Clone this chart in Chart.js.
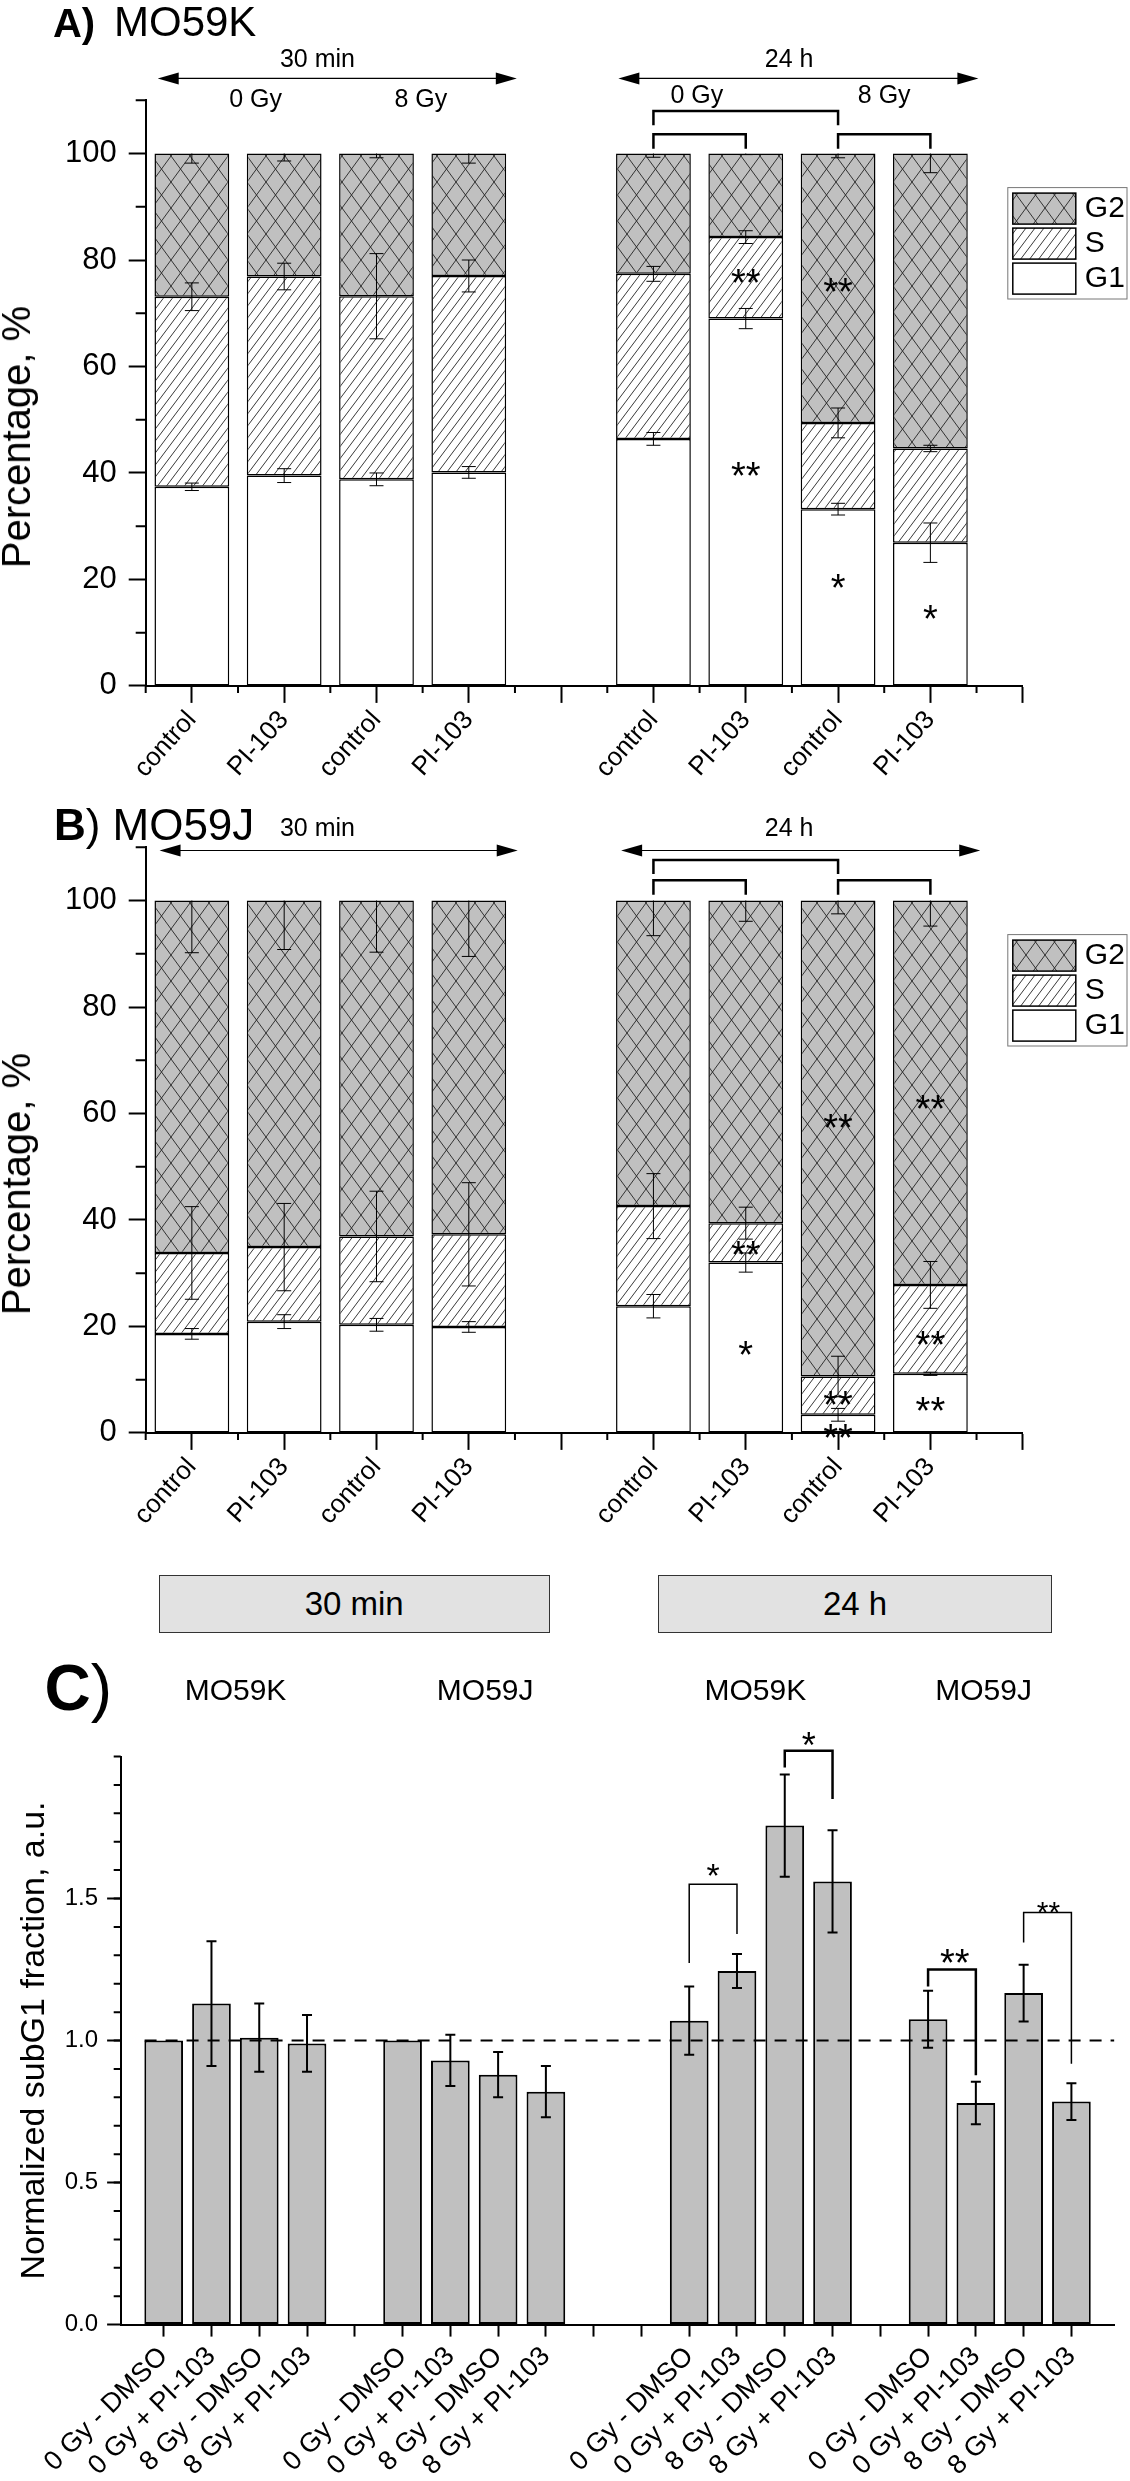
<!DOCTYPE html>
<html lang="en">
<head>
<meta charset="UTF-8">
<title>Cell cycle distribution and subG1 fraction</title>
<script src="https://cdn.jsdelivr.net/npm/chart.js@4.4.1/dist/chart.umd.min.js"></script>
<style>
  body { margin: 0; background: #fff; overflow: hidden; font-family: 'Liberation Sans', Arial, sans-serif; color: #000; }
  #page { position: relative; width: 1130px; height: 2481px; }
  canvas { position: absolute; left: 0; }
  .lbl { position: absolute; white-space: nowrap; line-height: 1; }
  .ytitle { position: absolute; white-space: nowrap; line-height: 1; transform: translate(-50%, -50%) rotate(-90deg); }
  .hdr { position: absolute; box-sizing: border-box; background: #e2e2e2; border: 1.5px solid #333;
         display: flex; align-items: center; justify-content: center; font-size: 33px; }
  .mid { transform: translateX(-50%); }
</style>
</head>
<body>
<div id="page">
  <canvas id="chartA" width="1130" height="800" style="top:0"></canvas>
  <canvas id="chartB" width="1130" height="800" style="top:747px"></canvas>
  <canvas id="chartC" width="1130" height="987" style="top:1494px"></canvas>

  <div class="lbl" style="left:52.9px; top:2.5px; font-size:40px; font-weight:bold">A)</div>
  <div class="lbl" style="left:114px; top:0.8px; font-size:42px">MO59K</div>
  <div class="ytitle" style="left:16px; top:436.5px; font-size:40px">Percentage, %</div>

  <div class="lbl" style="left:54px; top:802.8px; font-size:44px"><b>B</b>)</div>
  <div class="lbl" style="left:112.5px; top:802.8px; font-size:44px">MO59J</div>
  <div class="ytitle" style="left:16px; top:1183.5px; font-size:40px">Percentage, %</div>

  <div class="hdr" style="left:158.7px; top:1575px; width:391px; height:58px">30 min</div>
  <div class="hdr" style="left:658px; top:1575px; width:394px; height:58px">24 h</div>
  <div class="lbl" style="left:44.6px; top:1656px; font-size:64px"><b>C</b>)</div>
  <div class="lbl mid" style="left:235.5px; top:1674.6px; font-size:30px">MO59K</div>
  <div class="lbl mid" style="left:485.2px; top:1674.6px; font-size:30px">MO59J</div>
  <div class="lbl mid" style="left:755.3px; top:1674.6px; font-size:30px">MO59K</div>
  <div class="lbl mid" style="left:983.6px; top:1674.6px; font-size:30px">MO59J</div>
</div>

<script>
const FONT = "'Liberation Sans', Arial, sans-serif";
Chart.defaults.font.family = FONT;
Chart.defaults.color = '#000';

// ---- panels A and B: stacked cell-cycle phases (x index 4 is the gap between 30 min and 24 h)
const xLabelsAB = ['control', 'PI-103', 'control', 'PI-103', '', 'control', 'PI-103', 'control', 'PI-103'];

const g1A = [37.4, 39.5, 38.8, 40.1, null, 46.4, 69.0, 33.2, 26.9];
const sA = [35.7, 37.4, 34.4, 36.9, null, 31.0, 15.3, 16.2, 17.7];
const g2A = [26.9, 23.1, 26.8, 23.0, null, 22.6, 15.7, 50.6, 55.4];
const g1ErrA = [0.7, 1.3, 1.2, 1.1, null, 1.2, 1.9, 1.1, 3.7];
const sErrA = [2.6, 2.5, 8.0, 3.0, null, 1.4, 1.2, 2.8, 0.6];
const g2ErrA = [1.8, 1.4, 0.8, 1.8, null, 0.7, 0.2, 0.8, 3.6];

const g1B = [18.6, 20.9, 20.3, 19.9, null, 23.8, 32.0, 3.4, 11.1];
const sB = [15.2, 14.0, 16.6, 17.4, null, 18.8, 7.4, 7.2, 16.7];
const g2B = [66.2, 65.1, 63.1, 62.7, null, 57.4, 60.6, 89.4, 72.2];
const g1ErrB = [1.0, 1.3, 1.2, 1.0, null, 2.2, 1.8, 1.2, 0.3];
const sErrB = [8.7, 8.2, 8.5, 9.7, null, 6.1, 3.0, 3.8, 4.4];
const g2ErrB = [9.8, 9.2, 9.7, 10.5, null, 6.6, 3.9, 2.5, 4.8];

// significance marks: [x index, value, text]
const starsA = [[6, 77.3, '**'], [6, 41.1, '**'], [7, 75.7, '**'], [7, 20.1, '*'], [8, 14.2, '*']];
const starsB = [[6, 35.1, '**'], [6, 16.2, '*'], [7, 58.9, '**'], [7, 6.8, '**'], [7, 0.7, '**'],
                [8, 62.4, '**'], [8, 18.2, '**'], [8, 5.7, '**']];

// ---- panel C: normalized subG1 fraction (blank indices separate the groups)
const doseLabels = ['0 Gy - DMSO', '0 Gy + PI-103', '8 Gy - DMSO', '8 Gy + PI-103'];
const xLabelsC = [...doseLabels, '', ...doseLabels, '', '', ...doseLabels, '', ...doseLabels];
const subG1 = [1.0, 1.13, 1.01, 0.99, null, 1.0, 0.93, 0.88, 0.82, null, null,
               1.07, 1.245, 1.757, 1.56, null, 1.075, 0.78, 1.167, 0.785];
const subG1Err = [0, 0.22, 0.12, 0.10, null, 0, 0.09, 0.08, 0.09, null, null,
                  0.12, 0.06, 0.18, 0.18, null, 0.10, 0.075, 0.10, 0.065];
const refLevel = 1.0;

// hatch fills
function hatch(w, h, bg, cross) {
  const c = document.createElement('canvas');
  c.width = w; c.height = h;
  const g = c.getContext('2d');
  g.fillStyle = bg; g.fillRect(0, 0, w, h);
  g.strokeStyle = '#222'; g.lineWidth = 0.9;
  g.beginPath();
  for (let k = -1; k <= 1; k++) { g.moveTo(k * w, h); g.lineTo((k + 1) * w, 0); }
  if (cross) for (let k = -1; k <= 1; k++) { g.moveTo(k * w, 0); g.lineTo((k + 1) * w, h); }
  g.stroke();
  return g.createPattern(c, 'repeat');
}
const lineHatch = hatch(9, 12, '#ffffff', false);
const crossHatch = hatch(19, 26, '#c0c0c0', true);

const errorBars = {
  id: 'errorBars',
  afterDatasetsDraw(chart, args, o) {
    const { ctx, scales: { x, y } } = chart;
    ctx.save();
    ctx.strokeStyle = '#000';
    ctx.lineWidth = o.width;
    const sums = [];
    chart.data.datasets.forEach(ds => {
      if (ds.type === 'line') return;
      ds.data.forEach((p, i) => {
        if (p.y == null) return;
        const top = o.stacked ? (sums[i] = (sums[i] || 0) + p.y) : p.y;
        const e = ds.errors && ds.errors[i];
        if (!e) return;
        const px = x.getPixelForValue(p.x);
        const hi = y.getPixelForValue(ds.downOnly ? top : top + e);
        const lo = y.getPixelForValue(top - e);
        ctx.beginPath();
        ctx.moveTo(px, hi); ctx.lineTo(px, lo);
        ctx.moveTo(px - o.cap, lo); ctx.lineTo(px + o.cap, lo);
        if (!ds.downOnly) { ctx.moveTo(px - o.cap, hi); ctx.lineTo(px + o.cap, hi); }
        ctx.stroke();
      });
    });
    ctx.restore();
  }
};

const minorTicks = {
  id: 'minorTicks',
  afterDraw(chart, args, o) {
    const { ctx, chartArea, scales: { x, y } } = chart;
    ctx.save();
    ctx.strokeStyle = '#000';
    ctx.lineWidth = 2;
    ctx.beginPath();
    if (o.x) for (let v = o.x.from; v <= o.x.to + 1e-9; v += o.x.step) {
      const px = x.getPixelForValue(v);
      ctx.moveTo(px, chartArea.bottom); ctx.lineTo(px, chartArea.bottom + o.x.len);
    }
    if (o.y) for (let v = o.y.from; v <= o.y.to + 1e-9; v += o.y.step) {
      const py = y.getPixelForValue(v);
      ctx.moveTo(chartArea.left - o.y.len, py); ctx.lineTo(chartArea.left, py);
    }
    ctx.stroke();
    ctx.restore();
  }
};

const boxLegend = {
  id: 'boxLegend',
  afterDraw(chart, args, o) {
    if (!o.show) return;
    const ctx = chart.ctx;
    ctx.save();
    ctx.strokeStyle = '#777'; ctx.lineWidth = 1;
    ctx.strokeRect(o.left, o.top, o.width, o.height);
    chart.data.datasets.slice().reverse().forEach((d, i) => {
      const yy = o.top + 5.5 + i * 35;
      ctx.fillStyle = d.backgroundColor;
      ctx.fillRect(o.left + 5, yy, 63, 31);
      ctx.strokeStyle = '#000'; ctx.lineWidth = 1.5;
      ctx.strokeRect(o.left + 5, yy, 63, 31);
      ctx.fillStyle = '#000';
      ctx.font = '30px ' + FONT;
      ctx.textBaseline = 'middle';
      ctx.textAlign = 'left';
      ctx.fillText(d.label, o.left + 77, yy + 16);
    });
    ctx.restore();
  }
};

// arrows, brackets, labels and stars placed in data units
const marks = {
  id: 'marks',
  afterDraw(chart, args, o) {
    const { ctx, scales: { x, y } } = chart;
    const X = v => x.getPixelForValue(v), Y = v => y.getPixelForValue(v);
    ctx.save();
    ctx.fillStyle = '#000';
    ctx.strokeStyle = '#000';
    (o.arrows || []).forEach(([a, b, v]) => {
      const x1 = X(a), x2 = X(b), yy = Y(v);
      ctx.lineWidth = 1.2;
      ctx.beginPath(); ctx.moveTo(x1 + 10, yy); ctx.lineTo(x2 - 10, yy); ctx.stroke();
      ctx.beginPath();
      ctx.moveTo(x1, yy); ctx.lineTo(x1 + 21, yy - 6); ctx.lineTo(x1 + 21, yy + 6); ctx.closePath();
      ctx.moveTo(x2, yy); ctx.lineTo(x2 - 21, yy - 6); ctx.lineTo(x2 - 21, yy + 6); ctx.closePath();
      ctx.fill();
    });
    (o.brackets || []).forEach(([a, b, top, endA, endB, lw]) => {
      ctx.lineWidth = lw;
      ctx.lineJoin = 'miter';
      ctx.beginPath();
      ctx.moveTo(X(a), Y(endA)); ctx.lineTo(X(a), Y(top)); ctx.lineTo(X(b), Y(top)); ctx.lineTo(X(b), Y(endB));
      ctx.stroke();
    });
    ctx.textAlign = 'center';
    ctx.textBaseline = 'alphabetic';
    (o.texts || []).forEach(([t, xv, yv, size]) => {
      ctx.font = size + 'px ' + FONT;
      ctx.fillText(t, X(xv), Y(yv));
    });
    (o.stars || []).forEach(([xv, yv, t, size]) => {
      ctx.font = size + 'px ' + FONT;
      ctx.fillText(t, X(xv), Y(yv) + 0.57 * size);
    });
    ctx.restore();
  }
};

function cyclePanel(id, g1, s, g2, errG1, errS, errG2, notes) {
  const pts = arr => arr.map((v, i) => ({ x: i, y: v }));
  return new Chart(document.getElementById(id), {
    type: 'bar',
    data: {
      datasets: [
        { label: 'G1', data: pts(g1), errors: errG1, backgroundColor: '#ffffff' },
        { label: 'S', data: pts(s), errors: errS, backgroundColor: lineHatch },
        { label: 'G2', data: pts(g2), errors: errG2, downOnly: true, backgroundColor: crossHatch }
      ]
    },
    options: {
      responsive: false,
      animation: false,
      layout: { padding: { left: 0, top: 100.3, right: 107.3, bottom: 0 } },
      datasets: { bar: { borderColor: '#000', borderWidth: 1.5, borderSkipped: false,
                         categoryPercentage: 1, barPercentage: 0.81 } },
      scales: {
        x: {
          type: 'linear', stacked: true, min: -0.5, max: 9, offset: false,
          grid: { offset: false, drawOnChartArea: false, color: '#000', tickLength: 17, tickWidth: 2 },
          border: { color: '#000', width: 2 },
          ticks: { stepSize: 1, includeBounds: false, autoSkip: false, minRotation: 48, maxRotation: 48,
                   padding: 2, font: { size: 26 }, callback: v => xLabelsAB[v] || '' },
          afterFit: sc => { sc.height = 114.1; }
        },
        y: {
          stacked: true, min: 0, max: 110,
          grid: { drawOnChartArea: false, color: '#000', tickLength: 17, tickWidth: 2 },
          border: { color: '#000', width: 2 },
          ticks: { stepSize: 20, includeBounds: false, padding: 12, font: { size: 31 } },
          afterFit: sc => { sc.width = 145.7; }
        }
      },
      plugins: {
        legend: { display: false },
        tooltip: { enabled: false },
        errorBars: { width: 1, cap: 7, stacked: true },
        minorTicks: { x: { from: -0.5, to: 8.5, step: 1, len: 7 }, y: { from: 10, to: 110, step: 20, len: 10 } },
        boxLegend: { show: true, left: 1007.8, top: 187.6, width: 119.2, height: 111.4 },
        marks: notes
      }
    },
    plugins: [errorBars, minorTicks, boxLegend, marks]
  });
}

cyclePanel('chartA', g1A, sA, g2A, g1ErrA, sErrA, g2ErrA, {
  arrows: [[-0.37, 3.52, 114.1], [4.62, 8.52, 114.1]],
  texts: [['30 min', 1.36, 116.2, 25], ['24 h', 6.47, 116.2, 25],
          ['0 Gy', 0.69, 108.7, 25], ['8 Gy', 2.48, 108.7, 25],
          ['0 Gy', 5.47, 109.4, 25], ['8 Gy', 7.5, 109.4, 25]],
  brackets: [[5, 7, 108.0, 105.3, 105.3, 2.5], [5, 6, 103.6, 100.9, 100.9, 2.5], [7, 8, 103.6, 100.9, 100.9, 2.5]],
  stars: starsA.map(([xv, yv, t]) => [xv, yv, t, 38])
});

cyclePanel('chartB', g1B, sB, g2B, g1ErrB, sErrB, g2ErrB, {
  arrows: [[-0.35, 3.53, 109.4], [4.65, 8.54, 109.4]],
  texts: [['30 min', 1.36, 112.2, 25], ['24 h', 6.47, 112.2, 25]],
  brackets: [[5, 7, 107.6, 105.0, 105.0, 2.5], [5, 6, 103.8, 101.1, 101.1, 2.5], [7, 8, 103.8, 101.1, 101.1, 2.5]],
  stars: starsB.map(([xv, yv, t]) => [xv, yv, t, 38])
});

new Chart(document.getElementById('chartC'), {
  type: 'bar',
  data: {
    datasets: [
      { type: 'line', data: [{ x: -0.4, y: refLevel }, { x: 19.9, y: refLevel }], borderColor: '#000',
        borderWidth: 2, borderDash: [12, 9], pointRadius: 0, order: 0 },
      { data: subG1.map((v, i) => ({ x: i, y: v })), errors: subG1Err, backgroundColor: '#c0c0c0',
        borderColor: '#000', borderWidth: 2, borderSkipped: false, categoryPercentage: 1, barPercentage: 0.81, order: 1 }
    ]
  },
  options: {
    responsive: false,
    animation: false,
    layout: { padding: { left: 0, top: 262.5, right: 15.6, bottom: 0 } },
    scales: {
      x: {
        type: 'linear', min: -0.9, max: 19.9, offset: false,
        grid: { offset: false, drawOnChartArea: false, color: '#000', tickLength: 12, tickWidth: 2 },
        border: { color: '#000', width: 2 },
        ticks: { stepSize: 1, includeBounds: false, autoSkip: false, minRotation: 45, maxRotation: 45,
                 padding: 4, font: { size: 27 }, callback: v => xLabelsC[v] || '' },
        afterFit: sc => { sc.height = 156.4; }
      },
      y: {
        min: 0, max: 2,
        grid: { drawOnChartArea: false, color: '#000', tickLength: 13.6, tickWidth: 2 },
        border: { color: '#000', width: 2 },
        ticks: { stepSize: 0.5, padding: 9, font: { size: 24 }, callback: v => v.toFixed(1) },
        afterBuildTicks: sc => { sc.ticks = sc.ticks.filter(t => t.value < 1.99); },
        title: { display: true, text: 'Normalized subG1 fraction, a.u.', font: { size: 34 }, padding: { top: 14, bottom: 0 } },
        afterFit: sc => { sc.width = 120.7; }
      }
    },
    plugins: {
      legend: { display: false },
      tooltip: { enabled: false },
      errorBars: { width: 2, cap: 5, stacked: false },
      minorTicks: { y: { from: 0.1, to: 2.0, step: 0.1, len: 7 } },
      boxLegend: { show: false },
      marks: {
        brackets: [[11, 12, 1.55, 1.273, 1.375, 1.5], [13, 14, 2.02, 1.961, 1.85, 2.5],
                   [16, 17, 1.25, 1.19, 0.878, 2.5], [18, 19, 1.451, 1.345, 0.918, 1.5]],
        stars: [[11.5, 1.61, '*', 34], [13.5, 2.067, '*', 36], [16.56, 1.303, '**', 38], [18.52, 1.478, '**', 30]]
      }
    }
  },
  plugins: [errorBars, minorTicks, boxLegend, marks]
});
</script>
</body>
</html>
